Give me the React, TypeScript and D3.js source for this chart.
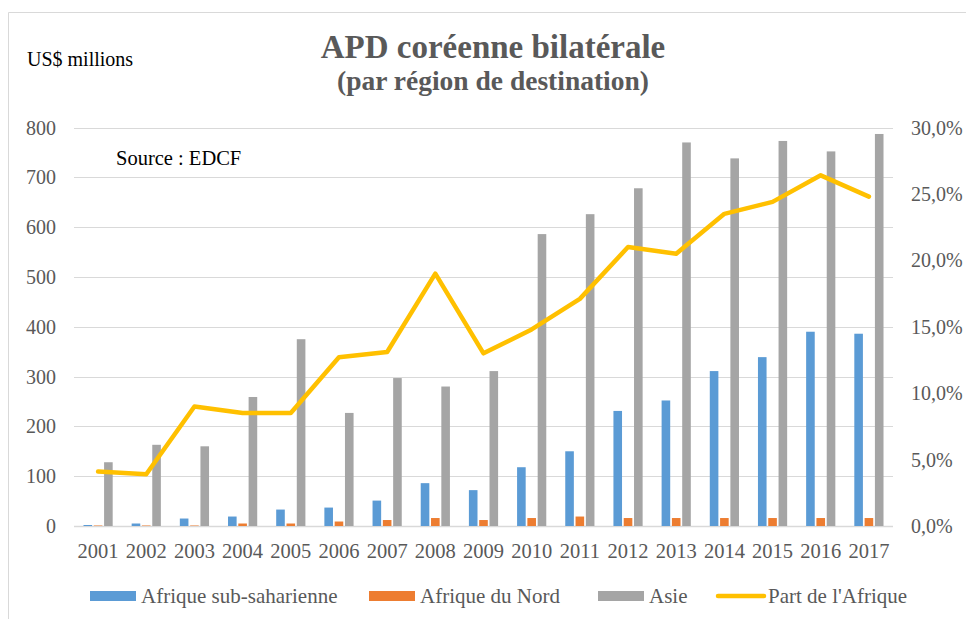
import { useEffect, useRef } from 'react'
import * as d3 from 'd3'

const years = ['2001', '2002', '2003', '2004', '2005', '2006', '2007', '2008', '2009', '2010', '2011', '2012', '2013', '2014', '2015', '2016', '2017']
const subSaharan = [2, 5, 15, 19, 33, 37, 51, 86, 72, 118, 150, 231, 252, 311, 339, 390, 386]
const northAfrica = [1, 1, 1, 5, 5, 9, 12, 16, 12, 16, 19, 16, 16, 16, 16, 16, 16]
const asia = [128, 163, 160, 259, 375, 227, 297, 280, 311, 586, 626, 678, 770, 738, 773, 752, 787]
const africaShare = [4.1, 3.9, 9.0, 8.5, 8.5, 12.7, 13.1, 19.0, 13.0, 14.8, 17.1, 21.0, 20.5, 23.5, 24.4, 26.4, 24.8]
const leftTicks = [0, 100, 200, 300, 400, 500, 600, 700, 800]
const rightTicks = [0, 5, 10, 15, 20, 25, 30]

const seriesNames = ['Afrique sub-saharienne', 'Afrique du Nord', 'Asie']
const colors = ['#5b9bd5', '#ed7d31', '#a5a5a5']
const lineColor = '#ffc000'
const textColor = '#595959'
const font = '"Liberation Serif", "Times New Roman", serif'

export default function App() {
  const ref = useRef<SVGSVGElement | null>(null)

  useEffect(() => {
    if (!ref.current) return
    const width = 966
    const height = 619
    const margin = { top: 127.5, right: 73, bottom: 93, left: 74 }

    const svg = d3.select(ref.current)
    svg.selectAll('*').remove()

    svg.append('rect').attr('width', width).attr('height', height).attr('fill', '#fff')
    // chart frame (right and bottom edges fall outside the picture)
    svg
      .append('path')
      .attr('d', `M8.5,${height + 2}V12.5H${width + 2}`)
      .attr('fill', 'none')
      .attr('stroke', '#d9d9d9')
      .attr('stroke-width', 1)

    const x = d3
      .scaleBand()
      .domain(years)
      .range([margin.left, width - margin.right])
    const y = d3
      .scaleLinear()
      .domain([0, 800])
      .range([height - margin.bottom, margin.top])
    const yRight = d3
      .scaleLinear()
      .domain([0, 30])
      .range([height - margin.bottom, margin.top])

    // gridlines
    svg
      .append('g')
      .selectAll('line')
      .data(leftTicks)
      .join('line')
      .attr('x1', margin.left)
      .attr('x2', width - margin.right)
      .attr('y1', (d) => Math.round(y(d)) + 0.5)
      .attr('y2', (d) => Math.round(y(d)) + 0.5)
      .attr('stroke', '#d9d9d9')
      .attr('stroke-width', (d) => (d === 0 ? 1.5 : 1.2))

    // left axis labels
    svg
      .append('g')
      .selectAll('text')
      .data(leftTicks)
      .join('text')
      .attr('x', 56)
      .attr('y', (d) => y(d))
      .attr('dy', '0.35em')
      .attr('text-anchor', 'end')
      .style('font-family', font)
      .style('font-size', '20px')
      .style('fill', textColor)
      .text((d) => d)

    // right axis labels
    svg
      .append('g')
      .selectAll('text')
      .data(rightTicks)
      .join('text')
      .attr('x', 911)
      .attr('y', (d) => yRight(d))
      .attr('dy', '0.35em')
      .style('font-family', font)
      .style('font-size', '20px')
      .style('fill', textColor)
      .text((d) => `${d.toFixed(1).replace('.', ',')}%`)

    // x labels
    svg
      .append('g')
      .selectAll('text')
      .data(years)
      .join('text')
      .attr('x', (d) => (x(d) || 0) + x.bandwidth() / 2)
      .attr('y', 558)
      .attr('text-anchor', 'middle')
      .style('font-family', font)
      .style('font-size', '20.5px')
      .style('fill', textColor)
      .text((d) => d)

    // bars
    const barW = 8.6
    const step = 10.3
    const series = [subSaharan, northAfrica, asia]
    series.forEach((vals, i) => {
      svg
        .append('g')
        .selectAll('rect')
        .data(vals)
        .join('rect')
        .attr('x', (_, j) => (x(years[j]) || 0) + x.bandwidth() / 2 + (i - 1) * step - barW / 2)
        .attr('y', (d) => y(d))
        .attr('width', barW)
        .attr('height', (d) => y(0) - y(d))
        .attr('fill', colors[i])
    })

    // share line
    const line = d3
      .line<number>()
      .x((_, j) => (x(years[j]) || 0) + x.bandwidth() / 2)
      .y((d) => yRight(d))
    svg
      .append('path')
      .datum(africaShare)
      .attr('d', line)
      .attr('fill', 'none')
      .attr('stroke', lineColor)
      .attr('stroke-width', 4.5)
      .attr('stroke-linejoin', 'round')
      .attr('stroke-linecap', 'round')

    // titles
    svg
      .append('text')
      .attr('x', 493)
      .attr('y', 58)
      .attr('text-anchor', 'middle')
      .style('font-family', font)
      .style('font-size', '33px')
      .style('font-weight', 'bold')
      .style('fill', textColor)
      .text('APD coréenne bilatérale')
    svg
      .append('text')
      .attr('x', 493)
      .attr('y', 90)
      .attr('text-anchor', 'middle')
      .style('font-family', font)
      .style('font-size', '27.5px')
      .style('font-weight', 'bold')
      .style('fill', textColor)
      .text('(par région de destination)')

    svg
      .append('text')
      .attr('x', 27)
      .attr('y', 66)
      .style('font-family', font)
      .style('font-size', '20px')
      .style('fill', '#000')
      .text('US$ millions')
    svg
      .append('text')
      .attr('x', 116)
      .attr('y', 165)
      .style('font-family', font)
      .style('font-size', '20.5px')
      .style('fill', '#000')
      .text('Source : EDCF')

    // legend
    const legendY = 596
    const legend = [
      { label: seriesNames[0], color: colors[0], x: 90, kind: 'rect' },
      { label: seriesNames[1], color: colors[1], x: 369, kind: 'rect' },
      { label: seriesNames[2], color: colors[2], x: 598, kind: 'rect' },
      { label: "Part de l'Afrique", color: lineColor, x: 716, kind: 'line' },
    ]
    const lg = svg.append('g')
    legend.forEach((item) => {
      if (item.kind === 'rect') {
        lg.append('rect')
          .attr('x', item.x)
          .attr('y', legendY - 5)
          .attr('width', 46)
          .attr('height', 10)
          .attr('fill', item.color)
      } else {
        lg.append('line')
          .attr('x1', item.x + 2)
          .attr('x2', item.x + 48)
          .attr('y1', legendY)
          .attr('y2', legendY)
          .attr('stroke', item.color)
          .attr('stroke-width', 4.5)
          .attr('stroke-linecap', 'round')
      }
      lg.append('text')
        .attr('x', item.x + (item.kind === 'rect' ? 51 : 52))
        .attr('y', legendY)
        .attr('dy', '0.35em')
        .style('font-family', font)
        .style('font-size', '21px')
        .style('fill', textColor)
        .text(item.label)
    })
  }, [])

  return (
    <svg
      ref={ref}
      width={966}
      height={619}
      style={{ position: 'absolute', left: 0, top: 0, display: 'block' }}
    />
  )
}
